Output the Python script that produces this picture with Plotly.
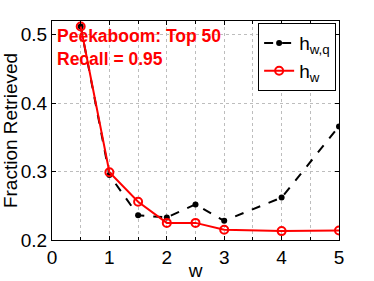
import plotly.graph_objects as go

w_q = [0.5, 1, 1.5, 2, 2.5, 3, 4, 5]
h_wq = [0.512, 0.295, 0.236, 0.233, 0.252, 0.228, 0.262, 0.366]
w_r = [0.5, 1, 1.5, 2, 2.5, 3, 4, 5]
h_w = [0.512, 0.299, 0.256, 0.225, 0.225, 0.215, 0.213, 0.214]
x_ticks = [0, 1, 2, 3, 4, 5]
y_ticks = [0.2, 0.3, 0.4, 0.5]

FONT = "Liberation Sans, Arial, sans-serif"
GRID = "#bdbdbd"

fig = go.Figure()
fig.add_trace(go.Scatter(x=w_q, y=h_wq, mode="lines+markers", name="h<sub>w,q</sub>",
                         line=dict(color="black", width=2, dash="dash"),
                         marker=dict(color="black", size=6)))
fig.add_trace(go.Scatter(x=w_r, y=h_w, mode="lines+markers", name="h<sub>w</sub>",
                         line=dict(color="red", width=2),
                         marker=dict(color="red", size=8, symbol="circle-open",
                                     line=dict(width=2))))

axis_common = dict(showline=True, linecolor="black", linewidth=1, mirror="ticks",
                   ticks="inside", ticklen=4, tickcolor="black", zeroline=False,
                   showgrid=True, gridcolor=GRID, griddash="dot", gridwidth=1,
                   automargin=False,
                   tickfont=dict(family=FONT, size=19, color="black"))

fig.update_xaxes(range=[0, 5], tickvals=x_ticks, ticktext=[str(v) for v in x_ticks],
                 title=dict(text="w", font=dict(family=FONT, size=19, color="black"), standoff=0),
                 minor=dict(dtick=0.5, showgrid=True, gridcolor=GRID, griddash="dot",
                            ticks="inside", ticklen=3, tickcolor="black"),
                 **axis_common)
fig.update_yaxes(range=[0.2, 0.52], tickvals=y_ticks, ticktext=[str(v) for v in y_ticks],
                 title=dict(text="Fraction Retrieved", font=dict(family=FONT, size=19, color="black"), standoff=2),
                 **axis_common)

fig.add_annotation(x=0, y=1, xref="paper", yref="paper", xanchor="left", yanchor="top",
                   xshift=3, yshift=-3, align="left", showarrow=False,
                   text="<b>Peekaboom: Top 50</b><br><b>Recall = 0.95</b>",
                   font=dict(family=FONT, size=17.5, color="red"))

fig.update_layout(width=374, height=281, margin=dict(l=52, r=35, t=21, b=41),
                  paper_bgcolor="white", plot_bgcolor="white",
                  showlegend=True,
                  legend=dict(x=0.99, y=0.99, xanchor="right", yanchor="top",
                              bgcolor="white", bordercolor="black", borderwidth=1,
                              font=dict(family=FONT, size=19, color="black"),
                              itemwidth=30, tracegroupgap=0))

fig.write_html("out.html", config={"displayModeBar": False},
               post_script="document.body.style.margin='0';document.body.style.padding='0';")
